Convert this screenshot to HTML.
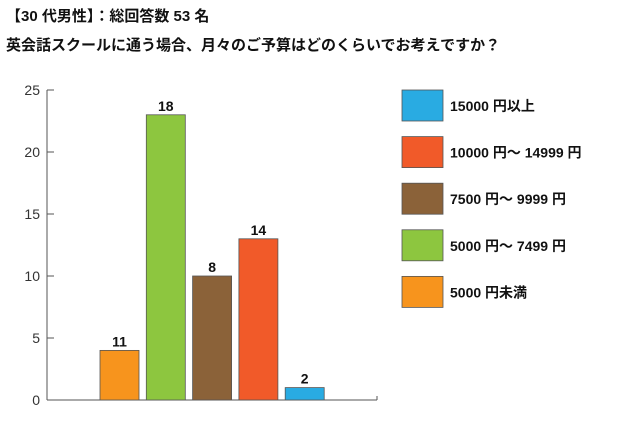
<!DOCTYPE html>
<html><head><meta charset="utf-8"><style>
body{margin:0;background:#fff;width:622px;height:424px;overflow:hidden;font-family:"Liberation Sans","Noto Sans CJK JP",sans-serif;}
.t{position:absolute;left:6px;font-weight:bold;font-size:15px;color:#111;white-space:nowrap;}
</style></head><body>
<div class="t" style="top:5px">【30 代男性】：総回答数 53 名</div>
<div class="t" style="top:34px">英会話スクールに通う場合、月々のご予算はどのくらいでお考えですか？</div>
<svg id="c" width="622" height="424" style="position:absolute;left:0;top:0"></svg>
<script>
const categories=["5000円未満","5000円～7499円","7500円～9999円","10000円～14999円","15000円以上"];
const values=[4,23,10,13,1];
const valueLabels=["11","18","8","14","2"];
const colors=["#f7941d","#8dc63f","#8b6239","#f15a29","#29abe2"];
const yTicks=[0,5,10,15,20,25];
const legendLabels=["15000 円以上","10000 円～ 14999 円","7500 円～ 9999 円","5000 円～ 7499 円","5000 円未満"];
const legendColors=["#29abe2","#f15a29","#8b6239","#8dc63f","#f7941d"];
const svg=document.getElementById('c');const NS='http://www.w3.org/2000/svg';
function mk(t,a){const e=document.createElementNS(NS,t);for(const k in a)e.setAttribute(k,a[k]);svg.appendChild(e);return e;}
const y0=400,y1=90,yMax=25;const y=v=>y0-(y0-y1)*v/yMax;
const x=i=>100+i*46.3;const bw=39;
let e=mk('line',{x1:47,y1:y(25),x2:47,y2:y0,stroke:'#555','stroke-width':1});

e=mk('line',{x1:47,y1:y0,x2:377,y2:y0,stroke:'#555','stroke-width':1});

mk('line',{x1:377,y1:y0-4,x2:377,y2:y0,stroke:'#555'});
yTicks.forEach(v=>{mk('line',{x1:47,y1:y(v),x2:54,y2:y(v),stroke:'#555'});
const t=mk('text',{x:40,y:y(v)+5,'text-anchor':'end','font-size':14,fill:'#333'});t.textContent=v;
});
values.forEach((v,i)=>{const r=mk('rect',{x:x(i),y:y(v),width:bw,height:y0-y(v),fill:colors[i],stroke:'#555','stroke-width':0.8});

const t=mk('text',{x:x(i)+bw/2,y:y(v)-4,'text-anchor':'middle','font-size':14,'font-weight':'bold',fill:'#111'});t.textContent=valueLabels[i];
});
legendLabels.forEach((l,i)=>{const yy=90+i*46.6;
const r=mk('rect',{x:402,y:yy,width:41,height:31,fill:legendColors[i],stroke:'#555','stroke-width':0.8});

const t=mk('text',{x:450,y:yy+21,'font-size':14,'font-weight':'bold',fill:'#111'});t.textContent=l;
});
</script>
</body></html>
